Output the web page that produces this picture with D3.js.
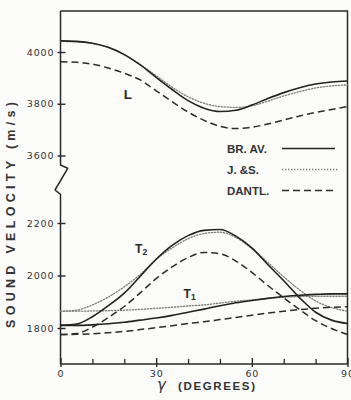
<!DOCTYPE html>
<html>
<head>
<meta charset="utf-8">
<script src="https://cdn.jsdelivr.net/npm/d3@7"></script>
<style>
  html, body { margin: 0; padding: 0; background: #fbfbfa; }
  svg { display: block; }
</style>
</head>
<body>
<svg id="chart" width="351" height="400"></svg>
<script>
// Propagation angle (degrees)
const angles = [0, 5, 10, 15, 20, 25, 30, 35, 40, 45, 50, 55, 60, 65, 70, 75, 80, 85, 90];

// Axis tick values
const xMajorTicks = [0, 30, 60, 90];
const xMinorTicks = [10, 20, 40, 50, 70, 80];
const yUpperTicks = [3600, 3800, 4000];
const yLowerTicks = [1800, 2000, 2200];

// Longitudinal mode L (m/s)
const brAvL  = [4043, 4041, 4034, 4018, 3990, 3950, 3902, 3855, 3812, 3783, 3770, 3775, 3795, 3820, 3843, 3862, 3876, 3884, 3888];
const jsL    = [4041, 4039, 4033, 4017, 3990, 3952, 3908, 3864, 3827, 3802, 3789, 3786, 3792, 3810, 3830, 3847, 3861, 3869, 3873];
const dantlL = [3962, 3960, 3953, 3938, 3918, 3892, 3850, 3808, 3768, 3736, 3713, 3704, 3709, 3722, 3737, 3753, 3766, 3778, 3789];

// Transverse mode T2 (m/s)
const brAvT2  = [1810, 1815, 1843, 1885, 1933, 1997, 2062, 2115, 2152, 2172, 2175, 2150, 2105, 2042, 1980, 1915, 1860, 1830, 1817];
const jsT2    = [1864, 1868, 1888, 1918, 1957, 2004, 2062, 2105, 2140, 2160, 2165, 2145, 2102, 2050, 1995, 1945, 1903, 1878, 1864];
const dantlT2 = [1775, 1779, 1803, 1840, 1882, 1934, 1988, 2033, 2068, 2088, 2083, 2055, 2012, 1962, 1915, 1870, 1828, 1798, 1775];

// Transverse mode T1 (m/s)
const brAvT1  = [1810, 1810, 1812, 1816, 1822, 1830, 1838, 1848, 1860, 1872, 1885, 1896, 1905, 1913, 1920, 1925, 1928, 1930, 1930];
const jsT1    = [1864, 1864, 1865, 1866, 1868, 1871, 1875, 1879, 1884, 1888, 1895, 1902, 1907, 1913, 1917, 1920, 1921, 1921, 1921];
const dantlT1 = [1775, 1776, 1778, 1782, 1787, 1794, 1801, 1809, 1817, 1824, 1832, 1840, 1849, 1857, 1864, 1870, 1875, 1879, 1881];

const legendNames = ["BR. AV.", "J. &S.", "DANTL."];

const svg = d3.select("#chart");
const ink = "#2a2a2a";

const plotLeft = 60.5, plotRight = 347.5, plotTop = 11, plotBottom = 364;

const x = d3.scaleLinear().domain([0, 90]).range([plotLeft, plotRight]);
// Broken value axis: two segments with the same px-per-unit
const yUp = d3.scaleLinear().domain([3600, 4000]).range([155.5, 52]);
const yLow = d3.scaleLinear().domain([1800, 2200]).range([328, 223]);

const styles = [
  { stroke: "#222", width: 1.6, dash: null },
  { stroke: "#7d7d7d", width: 1.3, dash: "1.3,1.7" },
  { stroke: "#2c2c2c", width: 1.5, dash: "7,4" }
];

// Frame: top and right edges, bottom axis line
svg.append("path")
  .attr("d", `M${plotLeft},${plotTop}H${plotRight}V${plotBottom}`)
  .attr("fill", "none").attr("stroke", ink).attr("stroke-width", 1.5);
svg.append("line")
  .attr("x1", plotLeft).attr("x2", plotRight).attr("y1", plotBottom).attr("y2", plotBottom)
  .attr("stroke", ink).attr("stroke-width", 1.5);

// Left axis line with a zigzag break between the two ranges
svg.append("path")
  .attr("d", `M${plotLeft},${plotTop}V165L67.7,168.3L55,190L${plotLeft},194.3V${plotBottom}`)
  .attr("fill", "none").attr("stroke", ink).attr("stroke-width", 1.5)
  .attr("stroke-linejoin", "round");

function styleLeftAxis(g) {
  g.select(".domain").remove();
  g.selectAll(".tick line").attr("x1", 5).attr("x2", -3)
    .attr("stroke", ink).attr("stroke-width", 1.4);
  g.selectAll(".tick text")
    .attr("x", -6)
    .attr("font-family", "DejaVu Sans, sans-serif")
    .attr("font-size", 9.5).attr("letter-spacing", 0.9)
    .attr("fill", "#333");
}

svg.append("g").attr("transform", `translate(${plotLeft},0)`)
  .call(d3.axisLeft(yUp).tickValues(yUpperTicks).tickSize(3).tickFormat(d3.format("d")))
  .call(styleLeftAxis);
svg.append("g").attr("transform", `translate(${plotLeft},0)`)
  .call(d3.axisLeft(yLow).tickValues(yLowerTicks).tickSize(3).tickFormat(d3.format("d")))
  .call(styleLeftAxis);

// Bottom axis: major ticks cross the line, minor ticks point inward
const gx = svg.append("g").attr("transform", `translate(0,${plotBottom})`)
  .call(d3.axisBottom(x).tickValues(xMajorTicks).tickSize(3).tickPadding(3));
gx.select(".domain").remove();
gx.selectAll(".tick line").attr("y1", -6).attr("stroke", ink).attr("stroke-width", 1.4);
gx.selectAll(".tick text")
  .attr("font-family", "DejaVu Sans, sans-serif")
  .attr("font-size", 9.5).attr("letter-spacing", 0.9)
  .attr("fill", "#333");

const gxm = svg.append("g").attr("transform", `translate(0,${plotBottom})`)
  .call(d3.axisBottom(x).tickValues(xMinorTicks).tickSize(-5).tickFormat(""));
gxm.select(".domain").remove();
gxm.selectAll(".tick line").attr("stroke", ink).attr("stroke-width", 1.3);

// Curves
const lineUp = d3.line().x((d, i) => x(angles[i])).y(d => yUp(d)).curve(d3.curveMonotoneX);
const lineLow = d3.line().x((d, i) => x(angles[i])).y(d => yLow(d)).curve(d3.curveMonotoneX);

const upperSeries = [brAvL, jsL, dantlL];
const lowerSeries = [[brAvT2, brAvT1], [jsT2, jsT1], [dantlT2, dantlT1]];

// dotted first, then dashed, then solid on top
[1, 2, 0].forEach(k => {
  const s = styles[k];
  const paths = [lineUp(upperSeries[k]), lineLow(lowerSeries[k][0]), lineLow(lowerSeries[k][1])];
  paths.forEach(d => {
    svg.append("path").attr("d", d)
      .attr("fill", "none")
      .attr("stroke", s.stroke).attr("stroke-width", s.width)
      .attr("stroke-dasharray", s.dash)
      .attr("stroke-linecap", k === 1 ? "round" : "butt");
  });
});

// Mode labels
const labelFont = "Liberation Sans, Arial, sans-serif";
svg.append("text").attr("x", x(19.8)).attr("y", yUp(3817))
  .attr("font-family", labelFont).attr("font-weight", "bold").attr("font-size", 13.5)
  .attr("fill", ink).text("L");

const t2 = svg.append("text").attr("x", x(23.4)).attr("y", yLow(2086))
  .attr("font-family", labelFont).attr("font-weight", "bold").attr("font-size", 12)
  .attr("fill", ink);
t2.append("tspan").text("T");
t2.append("tspan").attr("font-size", 8.5).attr("dy", 2.5).text("2");

const t1 = svg.append("text").attr("x", x(38.6)).attr("y", yLow(1916))
  .attr("font-family", labelFont).attr("font-weight", "bold").attr("font-size", 12)
  .attr("fill", ink);
t1.append("tspan").text("T");
t1.append("tspan").attr("font-size", 8.5).attr("dy", 2.5).text("1");

// Legend
const legend = svg.append("g");
legendNames.forEach((name, i) => {
  const yy = 148.5 + i * 21;
  legend.append("text").attr("x", 227).attr("y", yy + 4)
    .attr("font-family", labelFont).attr("font-weight", "bold").attr("font-size", 11.5)
    .attr("fill", "#333").text(name);
  const s = styles[i];
  legend.append("line").attr("x1", 282).attr("x2", i === 1 ? 338 : 335)
    .attr("y1", yy).attr("y2", yy)
    .attr("stroke", s.stroke).attr("stroke-width", s.width)
    .attr("stroke-dasharray", s.dash);
});

// Axis titles
svg.append("text")
  .attr("transform", "translate(15,215) rotate(-90)")
  .attr("text-anchor", "middle")
  .attr("font-family", labelFont).attr("font-weight", "bold").attr("font-size", 12.5)
  .attr("textLength", 226).attr("lengthAdjust", "spacing")
  .attr("fill", "#333")
  .text("SOUND VELOCITY (m/s)");

svg.append("text").attr("x", 157).attr("y", 389.5)
  .attr("font-family", "DejaVu Sans, sans-serif").attr("font-style", "italic")
  .attr("font-size", 15).attr("fill", "#333").text("γ");
svg.append("text").attr("x", 178).attr("y", 390)
  .attr("font-family", labelFont).attr("font-weight", "bold").attr("font-size", 11.5)
  .attr("textLength", 77).attr("lengthAdjust", "spacing")
  .attr("fill", "#333").text("(DEGREES)");
</script>
</body>
</html>
